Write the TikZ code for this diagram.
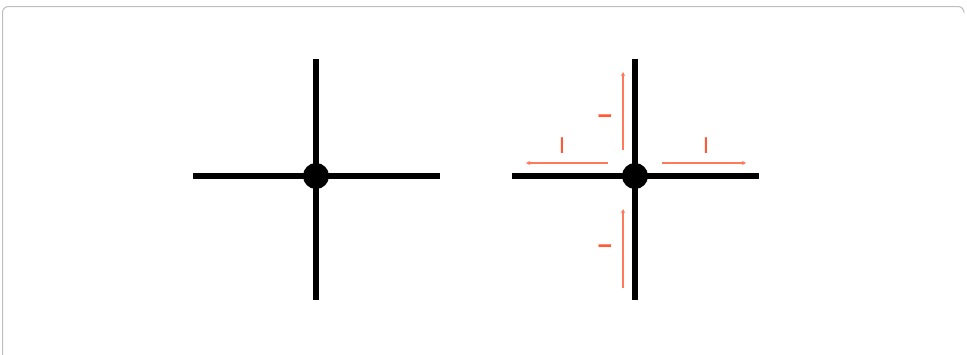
\documentclass[tikz,border=0pt]{standalone}
\usepackage{fontspec}
\setmainfont{Liberation Sans}
\usetikzlibrary{arrows.meta}
\definecolor{frame}{HTML}{BDBDBD}
\definecolor{redor}{HTML}{FF5A36}
\definecolor{flowc}{HTML}{FF7A5A}
\tikzset{
  wire/.style={line width=5.5pt, black},
  junction/.style={circle, fill=black, minimum size=26pt, inner sep=0pt},
  flow/.style={flowc, line width=1.4pt, -{Stealth[length=4pt,width=4pt]}},
  mark I/.style={redor, inner sep=0pt, font=\fontsize{23}{23}\selectfont},
  mark minus/.style={redor, inner sep=0pt, font=\bfseries\fontsize{25}{25}\selectfont},
}
\begin{document}
\begin{tikzpicture}[x=1pt,y=-1pt]
\useasboundingbox (0,0) rectangle (967,354);
% frame (only top and left edges visible)
\draw[frame, line width=1pt, rounded corners=6pt] (2.5,360) -- (2.5,6.5) -- (964,6.5) -- (964,12);

% left cross
\coordinate (Lw) at (193,176);
\coordinate (Le) at (440,176);
\coordinate (Ln) at (316,59);
\coordinate (Ls) at (316,300);
\draw[wire] (Lw) -- (Le);
\draw[wire] (Ln) -- (Ls);
\node[junction] (Lj) at (316,176) {};

% right cross
\coordinate (Rw) at (512,176);
\coordinate (Re) at (759,176);
\coordinate (Rn) at (635,59);
\coordinate (Rs) at (635,300);
\draw[wire] (Rw) -- (Re);
\draw[wire] (Rn) -- (Rs);
\node[junction] (Rj) at (635,176) {};

% current arrows
\coordinate (a1s) at (623,150);
\coordinate (a1e) at (623,72);
\coordinate (a2s) at (608,163);
\coordinate (a2e) at (526,163);
\coordinate (a3s) at (662,163);
\coordinate (a3e) at (746,163);
\coordinate (a4s) at (623,288);
\coordinate (a4e) at (623,209);
\draw[flow] (a1s) -- (a1e);
\draw[flow] (a2s) -- (a2e);
\draw[flow] (a3s) -- (a3e);
\draw[flow] (a4s) -- (a4e);

% labels
\node[mark I] (t1) at (562,146) {I};
\node[mark I] (t2) at (706,146) {I};
\node[mark minus] (m1) at (605,119.5) {−};
\node[mark minus] (m2) at (605,250) {−};
\end{tikzpicture}
\end{document}
